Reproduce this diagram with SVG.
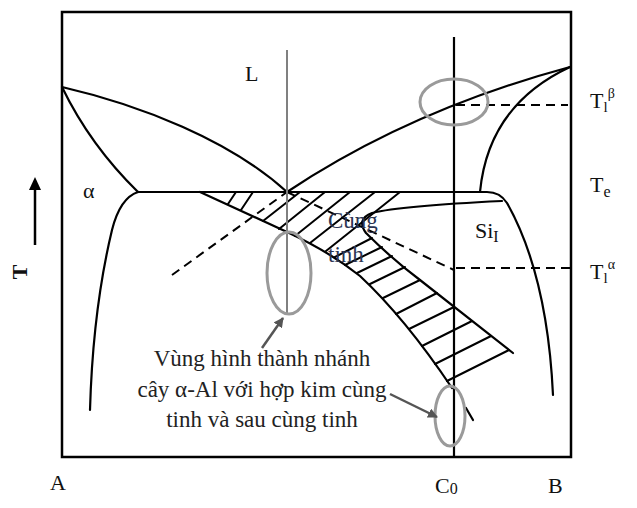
<svg xmlns="http://www.w3.org/2000/svg" width="637" height="508" viewBox="0 0 637 508">
<style>
.ln{fill:none;stroke:#000;stroke-width:2.2;stroke-linecap:round;stroke-linejoin:round}
.h{fill:none;stroke:#000;stroke-width:2;stroke-linecap:round}
.ds{fill:none;stroke:#000;stroke-width:2;stroke-dasharray:9 6}
.gr{fill:none;stroke:#808080;stroke-width:2}
.el{fill:none;stroke:#9a9a9a;stroke-width:3}
.ar{fill:none;stroke:#555;stroke-width:2.5}
text{font-family:'Liberation Serif','DejaVu Serif','Times New Roman',serif}
.t{font-size:22px;fill:#111}
.c{font-size:23px;fill:#222;text-anchor:middle}
.cu{font-size:23px;fill:#2b3553}
</style>
<defs>
<marker id="ah" viewBox="0 0 10 10" refX="9" refY="5" markerWidth="4" markerHeight="4" orient="auto" markerUnits="strokeWidth">
<path d="M0,0 L10,5 L0,10 Z" fill="#555"/>
</marker>
</defs>
<rect x="62" y="12" width="509" height="445" fill="#fff" stroke="#000" stroke-width="2.5"/>
<g id="phase-lines">
<path class="ln" d="M62,87 C140,105 230,140 287,192"/>
<path class="ln" d="M62,87 Q90,145 138,192"/>
<path class="ln" d="M138,192 Q120,198 112,230 C100,280 92,340 90,410"/>
<path class="ln" d="M138,192 L487,192 Q500,192 507,203 C525,235 548,290 553,395"/>
<path class="ln" d="M287,192 Q410,110 570,67"/>
<path class="ln" d="M480,192 C485,140 510,95 570,67"/>
<path class="ln" d="M200,192 L287,232 Q330,252 360,276 Q405,318 452,388"/>
<path class="ln" d="M466,408 L473,420"/>
<path class="ln" d="M502,201 C460,203 400,206 372,213 Q356,219 366,233 C385,252 400,265 420,280 L513,353"/>
</g>
<g id="hatch">
<path class="h" d="M228,204 L236,192 M241,210 L253,192 M263,221 L300,192 M279,229 L325,192 M295,236 L350,192 M310,243 L375,192 M326,251 L400,192 M335,257 L372,238 M345,265 L382,247 M357,273 L392,256 M370,284 L405,267 M383,298 L420,280 M396,314 L437,293 M409,329 L454,307 M422,346 L472,321 M435,364 L491,336 M447,381 L509,350"/>
</g>
<g id="dashed">
<path class="ds" d="M172,275 L287,192"/>
<path class="ds" d="M287,192 L454,270"/>
<path class="ds" d="M456,268 L572,268"/>
<path class="ds" d="M456,105 L568,105"/>
</g>
<g id="compositions">
<line class="gr" x1="287" y1="50" x2="287" y2="313"/>
<line x1="454" y1="37" x2="454" y2="457" stroke="#000" stroke-width="2.2"/>
</g>
<g id="highlights">
<ellipse class="el" cx="454" cy="102" rx="34" ry="23"/>
<ellipse class="el" cx="289" cy="273" rx="22" ry="41"/>
<ellipse class="el" cx="450" cy="416" rx="15" ry="30"/>
</g>
<g id="connectors">
<line class="ar" x1="262" y1="348" x2="283" y2="318" marker-end="url(#ah)"/>
<line class="ar" x1="390" y1="394" x2="437" y2="417" marker-end="url(#ah)"/>
<line x1="35" y1="245" x2="35" y2="188" stroke="#000" stroke-width="2.5"/>
<polygon points="35,177 29,190 41,190" fill="#000"/>
</g>
<g id="labels">
<text class="t" x="245" y="81">L</text>
<text class="t" x="83" y="198">α</text>
<text class="t" x="19" y="272" font-weight="bold" text-anchor="middle" transform="rotate(-90 19 272)" dy="8">T</text>
<text class="t" x="590" y="108">T<tspan font-size="15" dy="4">l</tspan><tspan font-size="14" dy="-14">β</tspan></text>
<text class="t" x="590" y="192">T<tspan font-size="16" dy="5">e</tspan></text>
<text class="t" x="590" y="279">T<tspan font-size="15" dy="4">l</tspan><tspan font-size="14" dy="-14">α</tspan></text>
<text class="t" x="475" y="238">Si<tspan font-size="16" dy="4">I</tspan></text>
<text class="t" x="50" y="490">A</text>
<text class="t" x="435" y="493">C<tspan font-size="16" dy="1">0</tspan></text>
<text class="t" x="548" y="493">B</text>
<text class="cu" x="328" y="228">Cùng</text>
<text class="cu" x="328" y="262">tinh</text>
<text class="c" x="262" y="366">Vùng hình thành nhánh</text>
<text class="c" x="262" y="397">cây α-Al với hợp kim cùng</text>
<text class="c" x="262" y="427">tinh và sau cùng tinh</text>
</g>
</svg>
